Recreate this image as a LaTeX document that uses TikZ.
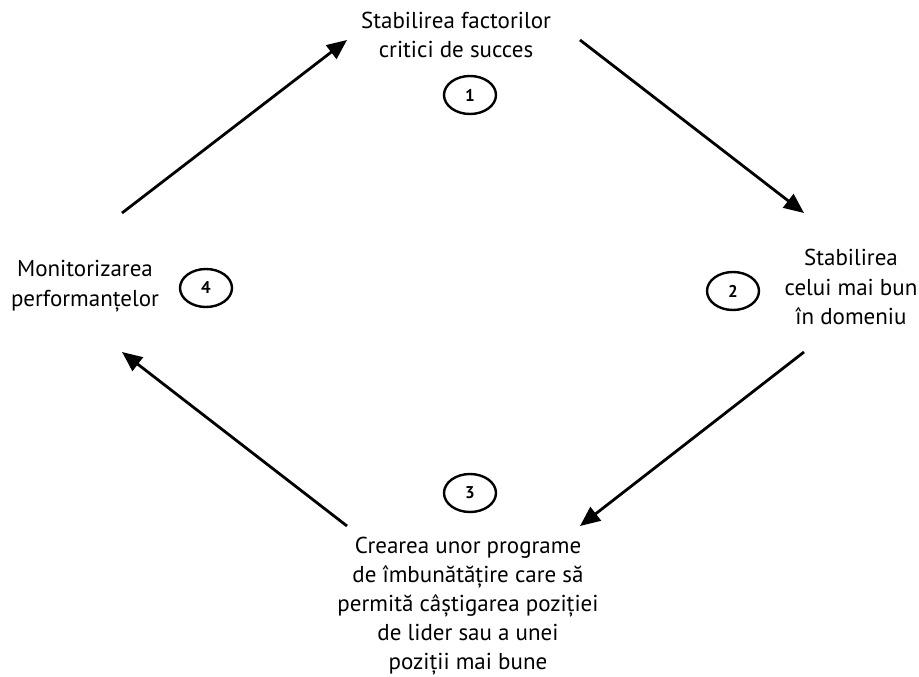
\documentclass[tikz,border=0pt]{standalone}
\usepackage{fontspec}
\setmainfont{PT Sans}
\usetikzlibrary{arrows.meta,shapes.geometric}
\begin{document}
\begin{tikzpicture}[x=1pt,y=-1pt,
  label text/.style={align=center,inner sep=0pt,font=\fontsize{23}{29.5}\selectfont},
  stepnum/.style={ellipse,draw,line width=2.4pt,minimum width=52pt,minimum height=38pt,inner sep=0pt,font=\fontsize{17}{19}\selectfont\bfseries},
  cyclearrow/.style={line width=2.8pt,-{Triangle[length=20pt,width=17pt]}}]
  \useasboundingbox (0,0) rectangle (919,677);

  % stage texts
  \node[label text] (t1) at (456,35) {Stabilirea factorilor\\critici de succes};
  \node[label text] (t2) at (851,287) {Stabilirea\\celui mai bun\\în domeniu};
  \node[label text,font=\fontsize{23}{29}\selectfont] (t3) at (468,606) {Crearea unor programe\\de îmbunătățire care să\\permită câștigarea poziției\\de lider sau a unei\\poziții mai bune};
  \node[label text] (t4) at (85,286) {Monitorizarea\\performanțelor};

  % numbered markers
  \node[stepnum] (n1) at (470,95) {1};
  \node[stepnum] (n2) at (733,291) {2};
  \node[stepnum] (n3) at (470,493) {3};
  \node[stepnum] (n4) at (206,288) {4};

  % arrow end points
  \coordinate (a1s) at (122,213);
  \coordinate (a1e) at (347,40);
  \coordinate (a2s) at (580,40);
  \coordinate (a2e) at (804,213);
  \coordinate (a3s) at (804,352);
  \coordinate (a3e) at (580,526);
  \coordinate (a4s) at (347,526);
  \coordinate (a4e) at (122,352);

  % cycle arrows
  \draw[cyclearrow] (a1s) -- (a1e);
  \draw[cyclearrow] (a2s) -- (a2e);
  \draw[cyclearrow] (a3s) -- (a3e);
  \draw[cyclearrow] (a4s) -- (a4e);
\end{tikzpicture}
\end{document}
